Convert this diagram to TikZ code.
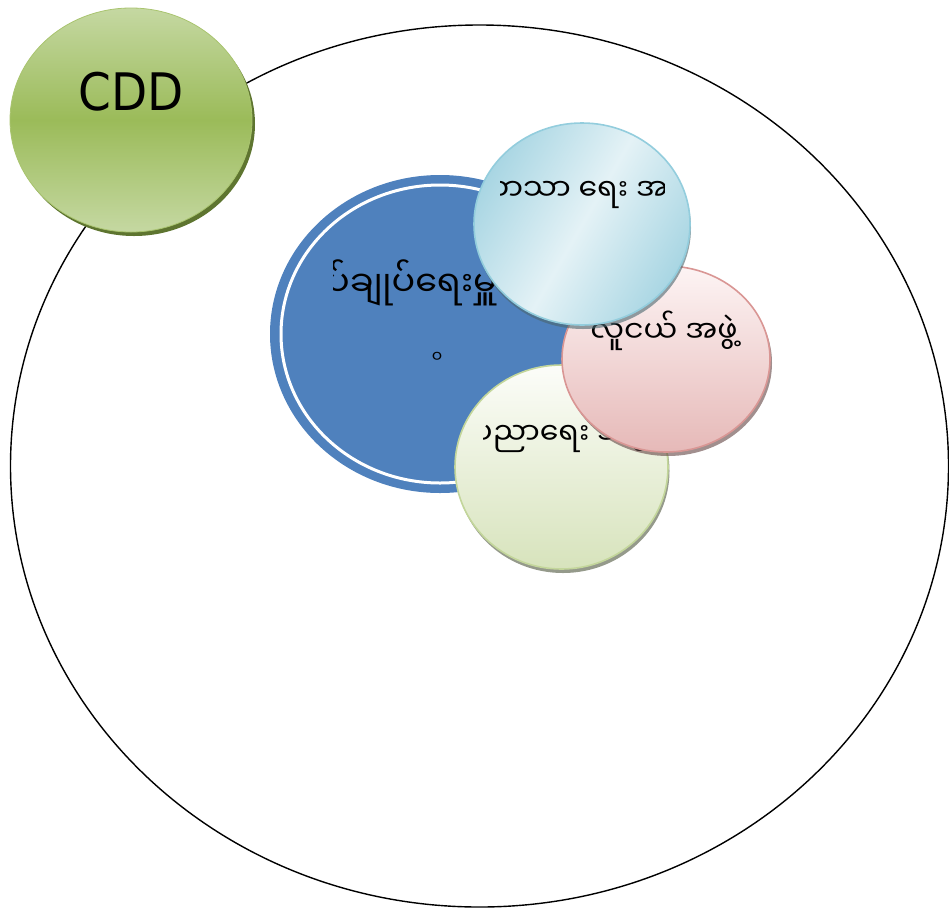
\documentclass[tikz,border=0pt]{standalone}
\usepackage{fontspec}
\newfontfamily\mm[Script=Myanmar]{Noto Sans Myanmar UI}
\newfontfamily\cddfont{DejaVu Sans}
\usetikzlibrary{shapes.geometric}
\definecolor{outerline}{HTML}{000000}
\definecolor{cddmid}{HTML}{9BBB59}
\definecolor{cddlight}{HTML}{C5D8A2}
\definecolor{cddshadow}{HTML}{5E7530}
\definecolor{cddborder}{HTML}{A9C46F}
\definecolor{bluefill}{HTML}{4F81BD}
\definecolor{lbedge}{HTML}{A9D6E3}
\definecolor{lbmid}{HTML}{E4F2F6}
\definecolor{lbborder}{HTML}{93CDDD}
\definecolor{pktop}{HTML}{FDF4F4}
\definecolor{pkbot}{HTML}{E6B9B8}
\definecolor{pkborder}{HTML}{D99694}
\definecolor{grtop}{HTML}{FCFDF9}
\definecolor{grbot}{HTML}{D7E3BC}
\definecolor{grborder}{HTML}{C3D69B}
\tikzset{
  blob/.style={ellipse, inner sep=0pt, outer sep=0pt},
  shadowblob/.style={ellipse, inner sep=0pt, draw=none, fill=black, fill opacity=0.28},
  mmtext/.style={font=\mm\fontsize{30}{34}\selectfont, inner sep=0pt, text=black},
}
\begin{document}
\begin{tikzpicture}[x=1pt,y=-1pt]
\useasboundingbox (0,0) rectangle (949,911);
% outer ellipse
\node[blob, draw=outerline, line width=1.4pt, minimum width=938pt, minimum height=882pt] (outer) at (479.5,466) {};
% CDD
\node[shadowblob, fill=cddshadow, fill opacity=1, minimum width=242pt, minimum height=224pt] (cddsh) at (134,124) {};
\node[blob, draw=cddborder, line width=0.8pt, top color=cddlight, bottom color=cddlight, middle color=cddmid, minimum width=242pt, minimum height=224pt] (cdd) at (131,120) {};
\node[font=\cddfont\fontsize{47}{50}\selectfont, inner sep=0pt] (cddtext) at (131,92) {\scalebox{1}[1.1]{CDD}};
% blue circle
\node[blob, fill=bluefill, minimum width=340pt, minimum height=318pt] (blue) at (440,334) {};
\node[blob, draw=white, line width=3pt, minimum width=318pt, minimum height=298pt] (bluering) at (440,334) {};
\begin{scope}
  \clip (333,200) rectangle (560,400);
  \node[mmtext, font=\mm\fontsize{35}{40}\selectfont, anchor=west] (bluetext) at (326,283) {ပ်ချုပ်ရေးမှူး};
\end{scope}
\node[mmtext, font=\mm\fontsize{16}{18}\selectfont] (bluetext2) at (437,357) {၀};
% green light circle
\node[shadowblob, fill=black!60!grborder, fill opacity=0.6, minimum width=213pt, minimum height=204pt] (grsh) at (563,471) {};
\node[blob, draw=grborder, line width=1.6pt, top color=grtop, bottom color=grbot, minimum width=213pt, minimum height=204pt] (green) at (561.5,467) {};
\begin{scope}
  \clip (483,380) rectangle (660,480);
  \node[mmtext] (greentext) at (561,434) {ပညာရေး အဖွဲ့};
\end{scope}
% pink circle
\node[shadowblob, fill=black!55!pkborder, fill opacity=0.6, minimum width=208pt, minimum height=186pt] (pksh) at (668,363) {};
\node[blob, draw=pkborder, line width=1.6pt, top color=pktop, bottom color=pkbot, minimum width=208pt, minimum height=186pt] (pink) at (666,359) {};
\node[mmtext] (pinktext) at (664,331) {လူငယ် အဖွဲ့};
% light blue circle
\node[shadowblob, fill=black!50!lbborder, fill opacity=0.6, minimum width=216pt, minimum height=202pt] (lbsh) at (583,228) {};
\node[blob, draw=lbborder, line width=1.6pt, left color=lbedge, right color=lbedge, middle color=lbmid, shading angle=60, minimum width=216pt, minimum height=202pt] (lblue) at (582,224) {};
\begin{scope}
  \clip (500,150) rectangle (664,240);
  \node[mmtext] (lbtext) at (582,190) {ဘာသာ ရေး အဖွဲ့};
\end{scope}
\end{tikzpicture}
\end{document}
